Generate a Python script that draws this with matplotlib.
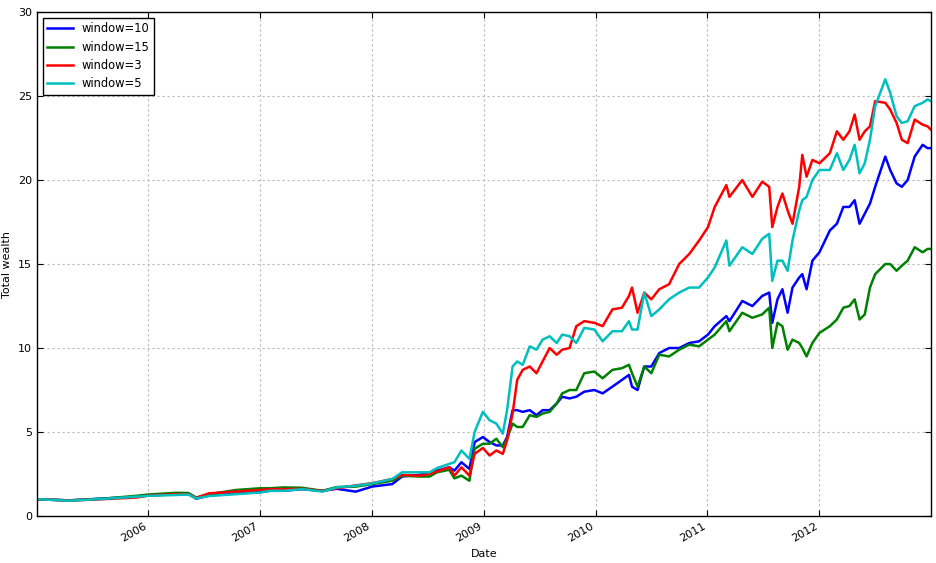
import matplotlib
matplotlib.use("Agg")
import matplotlib.pyplot as plt
import matplotlib.dates as mdates
import numpy as np
import pandas as pd

# values
dates = [
    "2005-01-03", "2005-04-17", "2005-08-07", "2005-11-23", "2006-01-02", "2006-04-02",
    "2006-05-12", "2006-06-07", "2006-07-19", "2006-10-16", "2007-01-02", "2007-02-02",
    "2007-03-19", "2007-05-19", "2007-07-24", "2007-09-08", "2007-11-10", "2008-01-02",
    "2008-03-08", "2008-04-09", "2008-06-05", "2008-07-08", "2008-08-01", "2008-09-10",
    "2008-09-27", "2008-10-20", "2008-11-15", "2008-12-02", "2008-12-29", "2009-01-20",
    "2009-02-11", "2009-03-04", "2009-03-18", "2009-04-05", "2009-04-20", "2009-05-08",
    "2009-05-31", "2009-06-22", "2009-07-12", "2009-08-04", "2009-08-27", "2009-09-14",
    "2009-10-08", "2009-10-30", "2009-11-25", "2009-12-28", "2010-01-24", "2010-02-25",
    "2010-03-28", "2010-04-20", "2010-04-30", "2010-05-18", "2010-06-09", "2010-07-02",
    "2010-07-28", "2010-08-29", "2010-10-01", "2010-11-03", "2010-12-05", "2011-01-03",
    "2011-01-25", "2011-03-04", "2011-03-14", "2011-04-25", "2011-05-28", "2011-06-29",
    "2011-07-22", "2011-08-01", "2011-08-18", "2011-09-03", "2011-09-20", "2011-10-06",
    "2011-10-28", "2011-11-07", "2011-11-21", "2011-12-10", "2012-01-02", "2012-02-05",
    "2012-02-28", "2012-03-20", "2012-04-09", "2012-04-26", "2012-05-12", "2012-05-29",
    "2012-06-15", "2012-07-02", "2012-08-04", "2012-08-20", "2012-09-10", "2012-09-27",
    "2012-10-16", "2012-11-08", "2012-12-04", "2012-12-20", "2012-12-31",
]

window10 = [
    1.0, 0.93, 1.04, 1.15, 1.22, 1.3, 1.32, 1.03, 1.22, 1.35, 1.42, 1.5,
    1.5, 1.6, 1.5, 1.62, 1.45, 1.75, 1.9, 2.35, 2.45, 2.55, 2.7, 2.9,
    2.7, 3.2, 2.8, 4.4, 4.7, 4.4, 4.2, 4.2, 4.7, 6.3, 6.3, 6.2,
    6.3, 6.0, 6.3, 6.3, 6.7, 7.1, 7.0, 7.1, 7.4, 7.5, 7.3, 7.7,
    8.1, 8.4, 7.7, 7.5, 8.9, 8.9, 9.7, 10.0, 10.0, 10.3, 10.4, 10.8,
    11.3, 11.9, 11.6, 12.8, 12.5, 13.1, 13.3, 11.5, 12.9, 13.5, 12.1, 13.6,
    14.2, 14.4, 13.5, 15.2, 15.7, 17.0, 17.4, 18.4, 18.4, 18.8, 17.4, 18.0,
    18.6, 19.6, 21.4, 20.6, 19.8, 19.6, 20.0, 21.4, 22.1, 21.9, 21.9,
]

window15 = [
    1.0, 0.93, 1.03, 1.2, 1.28, 1.38, 1.37, 1.1, 1.3, 1.55, 1.65, 1.65,
    1.7, 1.68, 1.5, 1.72, 1.75, 1.9, 2.1, 2.4, 2.35, 2.35, 2.6, 2.75,
    2.24, 2.4, 2.1, 4.0, 4.3, 4.3, 4.6, 4.1, 4.6, 5.5, 5.3, 5.3,
    6.0, 5.9, 6.1, 6.2, 6.7, 7.3, 7.5, 7.5, 8.5, 8.6, 8.2, 8.7,
    8.8, 9.0, 8.5, 7.7, 8.9, 8.5, 9.6, 9.5, 9.9, 10.2, 10.1, 10.5,
    10.8, 11.6, 11.0, 12.1, 11.8, 12.0, 12.4, 10.0, 11.5, 11.3, 9.9, 10.5,
    10.3, 10.0, 9.5, 10.3, 10.9, 11.3, 11.7, 12.4, 12.5, 12.9, 11.7, 12.0,
    13.6, 14.4, 15.0, 15.0, 14.6, 14.9, 15.2, 16.0, 15.7, 15.9, 15.9,
]

window3 = [
    1.0, 0.92, 1.0, 1.1, 1.22, 1.3, 1.3, 1.08, 1.35, 1.45, 1.55, 1.6,
    1.6, 1.62, 1.48, 1.65, 1.82, 1.95, 2.2, 2.44, 2.4, 2.5, 2.65, 2.9,
    2.4, 2.9, 2.4, 3.7, 4.05, 3.6, 3.9, 3.7, 4.5, 6.1, 8.1, 8.7,
    8.9, 8.5, 9.2, 10.0, 9.6, 9.9, 10.0, 11.3, 11.6, 11.5, 11.3, 12.3,
    12.4, 13.1, 13.6, 12.1, 13.3, 12.9, 13.5, 13.8, 15.0, 15.6, 16.4, 17.2,
    18.4, 19.7, 19.0, 20.0, 19.0, 19.9, 19.6, 17.2, 18.4, 19.2, 18.2, 17.4,
    19.6, 21.5, 20.2, 21.2, 21.0, 21.6, 22.9, 22.4, 22.9, 23.9, 22.4, 22.9,
    23.2, 24.7, 24.6, 24.2, 23.4, 22.4, 22.2, 23.6, 23.3, 23.2, 23.0,
]

window5 = [
    1.0, 0.91, 1.02, 1.15, 1.2, 1.25, 1.28, 1.05, 1.19, 1.3, 1.4, 1.5,
    1.5, 1.6, 1.45, 1.7, 1.8, 1.94, 2.2, 2.6, 2.6, 2.6, 2.85, 3.1,
    3.2, 3.9, 3.4, 5.0, 6.2, 5.7, 5.5, 4.9, 6.3, 8.9, 9.2, 9.0,
    10.1, 9.9, 10.5, 10.7, 10.3, 10.8, 10.7, 10.3, 11.2, 11.1, 10.4, 11.0,
    11.0, 11.6, 11.1, 11.1, 13.3, 11.9, 12.3, 12.9, 13.3, 13.6, 13.6, 14.2,
    14.8, 16.4, 14.9, 16.0, 15.6, 16.5, 16.8, 14.0, 15.2, 15.2, 14.6, 16.4,
    18.2, 18.8, 19.0, 20.0, 20.6, 20.6, 21.6, 20.6, 21.2, 22.1, 20.4, 21.0,
    22.4, 24.4, 26.0, 25.2, 23.8, 23.4, 23.5, 24.4, 24.6, 24.8, 24.7,
]

series = [
    ("window=10", window10, "b"),
    ("window=15", window15, "g"),
    ("window=3", window3, "r"),
    ("window=5", window5, "c"),
]

x = pd.to_datetime(dates)

fig = plt.figure(figsize=(9.37, 5.63), dpi=100)
ax = fig.add_axes([0.0395, 0.0835, 0.954, 0.895])

for name, vals, col in series:
    ax.plot(x, vals, color=col, lw=1.8, label=name)

ax.set_xlim(pd.Timestamp("2005-01-03"), pd.Timestamp("2012-12-31"))
ax.set_ylim(0, 30)
ax.set_yticks(np.arange(0, 31, 5))
ax.xaxis.set_major_locator(mdates.YearLocator())
ax.xaxis.set_major_formatter(mdates.DateFormatter("%Y"))

ax.grid(True, color="0.72", linestyle=(0, (2, 2.5)), lw=0.8)
ax.tick_params(direction="in", top=True, right=True, labelsize=8, length=4)
for lab in ax.get_xticklabels():
    lab.set_rotation(30)
    lab.set_ha("right")
for s in ax.spines.values():
    s.set_color("k")
    s.set_linewidth(1)

ax.set_xlabel("Date", fontsize=8)
ax.set_ylabel("Total wealth", fontsize=8)

leg = ax.legend(loc="upper left", fontsize=8.3, fancybox=False, framealpha=1,
                edgecolor="k", borderaxespad=0.5, handlelength=2.2,
                labelspacing=0.45)
leg.get_frame().set_linewidth(1)

fig.savefig("out.png", dpi=100)
